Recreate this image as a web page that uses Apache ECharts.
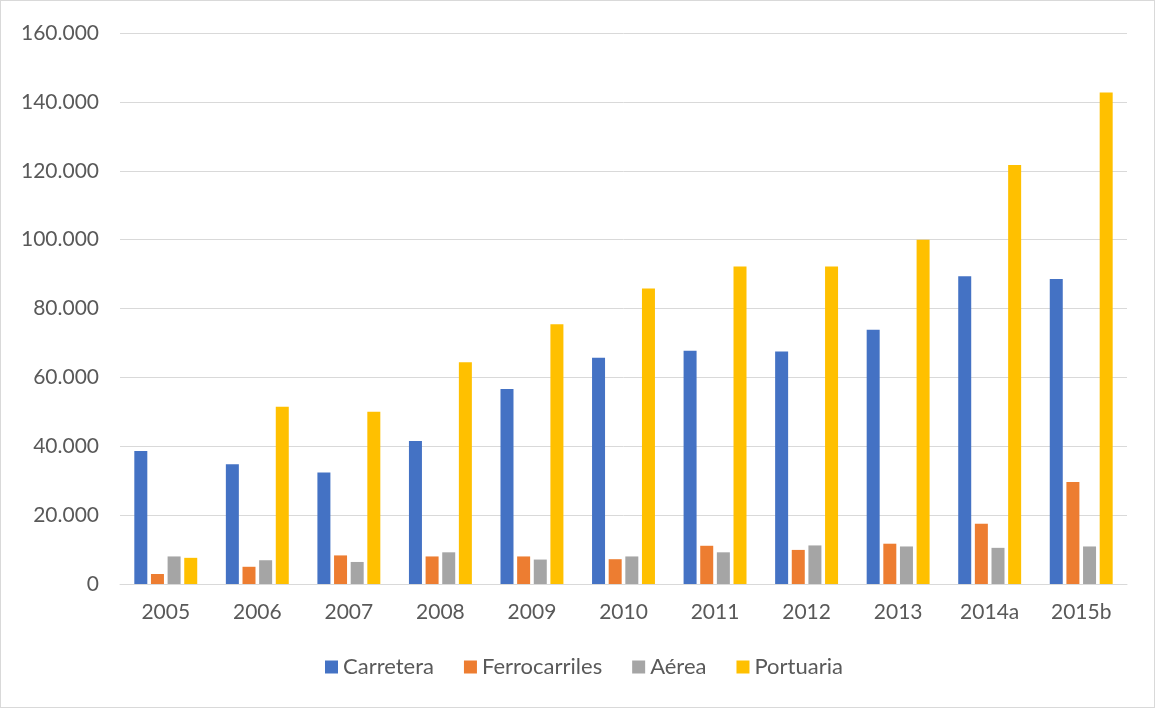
<!DOCTYPE html>
<html>
<head>
<meta charset="utf-8">
<script src="https://cdn.jsdelivr.net/npm/echarts@6/dist/echarts.min.js"></script>
<style>
    html, body { margin: 0; padding: 0; background: #fff; }
    #chart { width: 1155px; height: 708px; box-sizing: border-box; border: 1px solid #d9d9d9; }
</style>
</head>
<body>
<div id="chart"></div>
<script>
// years on the x axis
var years = ['2005', '2006', '2007', '2008', '2009', '2010', '2011', '2012', '2013', '2014a', '2015b'];
var seriesNames = ['Carretera', 'Ferrocarriles', 'Aérea', 'Portuaria'];
var colors = ['#4472c4', '#ed7d31', '#a5a5a5', '#ffc000'];

// values
var carretera = [38600, 34800, 32400, 41500, 56600, 65700, 67700, 67500, 73800, 89400, 88600];
var ferrocarriles = [2900, 5000, 8300, 8000, 8000, 7200, 11100, 9900, 11700, 17500, 29600];
var aerea = [8000, 6900, 6400, 9200, 7100, 8000, 9200, 11200, 10900, 10500, 10900];
var portuaria = [7600, 51500, 50000, 64400, 75400, 85800, 92200, 92200, 100000, 121700, 142700];

var fmtThousands = function(v) {
    return String(v).replace(/\B(?=(\d{3})+(?!\d))/g, '.');
};

var chart = echarts.init(document.getElementById('chart'));
var allData = [carretera, ferrocarriles, aerea, portuaria];
var series = [];
for (var i = 0; i < seriesNames.length; i++) {
    series.push({
        name: seriesNames[i],
        type: 'bar',
        data: allData[i],
        barWidth: 13,
        barGap: '28%',
        itemStyle: { color: colors[i] }
    });
}

var option = {
    backgroundColor: '#fff',
    animation: false,
    textStyle: { fontFamily: 'Lato' },
    color: colors,
    legend: {
        data: seriesNames,
        bottom: 24,
        left: 319,
        itemWidth: 13,
        itemHeight: 13,
        itemGap: 30,
        icon: 'rect',
        textStyle: { color: '#595959', fontSize: 22, fontFamily: 'Lato' }
    },
    grid: {
        left: 119,
        right: 27,
        top: 32,
        bottom: 123,
        containLabel: false
    },
    xAxis: {
        type: 'category',
        data: years,
        axisTick: { show: false },
        axisLine: { lineStyle: { color: '#d9d9d9', width: 1 } },
        axisLabel: { color: '#595959', fontSize: 21, margin: 18 }
    },
    yAxis: {
        type: 'value',
        min: 0,
        max: 160000,
        interval: 20000,
        axisLine: { show: false },
        axisTick: { show: false },
        splitLine: { lineStyle: { color: '#d9d9d9', width: 1 } },
        axisLabel: {
            color: '#595959',
            fontSize: 21,
            margin: 21,
            formatter: fmtThousands
        }
    },
    series: series
};
chart.setOption(option);
</script>
</body>
</html>
